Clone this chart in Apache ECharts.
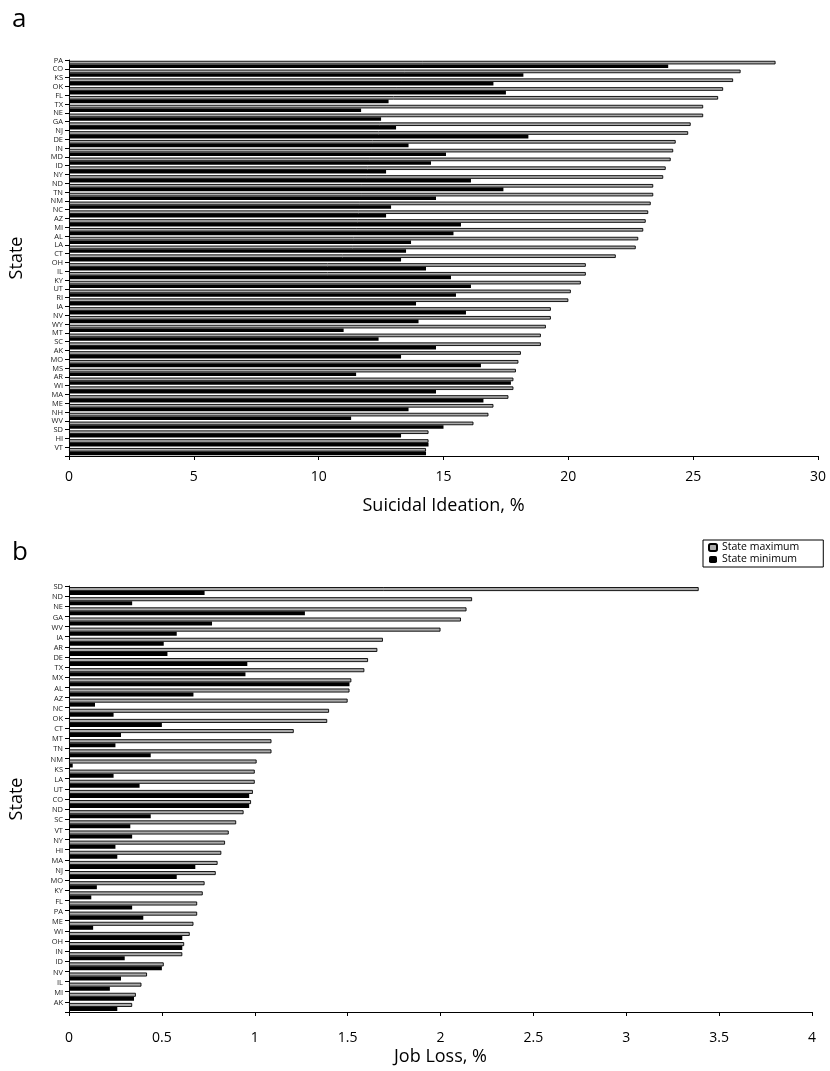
<!DOCTYPE html>
<html>
<head>
<meta charset="utf-8">
<script src="https://cdn.jsdelivr.net/npm/echarts@6/dist/echarts.min.js"></script>
<style>html,body{margin:0;padding:0;background:#fff;}#c{width:830px;height:1071px;}</style>
</head>
<body>
<div id="c"></div>
<script>
// ---- Panel a: Suicidal Ideation, % ----
const topStates = ['PA','CO','KS','OK','FL','TX','NE','GA','NJ','DE','IN','MD','ID','NY','ND','TN','NM','NC','AZ','MI','AL','LA','CT','OH','IL','KY','UT','RI','IA','NV','WY','MT','SC','AK','MO','MS','AR','WI','MA','ME','NH','WV','SD','HI','VT'];
const topMax = [28.3,26.9,26.6,26.2,26.0,25.4,25.4,24.9,24.8,24.3,24.2,24.1,23.9,23.8,23.4,23.4,23.3,23.2,23.1,23.0,22.8,22.7,21.9,20.7,20.7,20.5,20.1,20.0,19.3,19.3,19.1,18.9,18.9,18.1,18.0,17.9,17.8,17.8,17.6,17.0,16.8,16.2,14.4,14.4,14.3];
const topMin = [24.0,18.2,17.0,17.5,12.8,11.7,12.5,13.1,18.4,13.6,15.1,14.5,12.7,16.1,17.4,14.7,12.9,12.7,15.7,15.4,13.7,13.5,13.3,14.3,15.3,16.1,15.5,13.9,15.9,14.0,11.0,12.4,14.7,13.3,16.5,11.5,17.7,14.7,16.6,13.6,11.3,15.0,13.3,14.4,14.3];
const topTicks = [0,5,10,15,20,25,30];

// ---- Panel b: Job Loss, % ----
const botStates = ['SD','ND','NE','GA','WV','IA','AR','DE','TX','MX','AL','AZ','NC','OK','CT','MT','TN','NM','KS','LA','UT','CO','ND','SC','VT','NY','HI','MA','NJ','MO','KY','FL','PA','ME','WI','OH','IN','ID','NV','IL','MI','AK'];
const botMax = [3.39,2.17,2.14,2.11,2.00,1.69,1.66,1.61,1.59,1.52,1.51,1.50,1.40,1.39,1.21,1.09,1.09,1.01,1.00,1.00,0.99,0.98,0.94,0.90,0.86,0.84,0.82,0.80,0.79,0.73,0.72,0.69,0.69,0.67,0.65,0.62,0.61,0.51,0.42,0.39,0.36,0.34];
const botMin = [0.73,0.34,1.27,0.77,0.58,0.51,0.53,0.96,0.95,1.51,0.67,0.14,0.24,0.50,0.28,0.25,0.44,0.02,0.24,0.38,0.97,0.97,0.44,0.33,0.34,0.25,0.26,0.68,0.58,0.15,0.12,0.34,0.40,0.13,0.61,0.61,0.30,0.50,0.28,0.22,0.35,0.26];
const botTicks = [0,0.5,1,1.5,2,2.5,3,3.5,4];

const FONT = '"Open Sans", "Liberation Sans", sans-serif';
const maxStyle = {color:'#ababab', borderColor:'#000', borderWidth:0.9};
const minStyle = {color:'#000'};

function fmt(v){ return String(v); }

function yAx(grid, data, gap){
  return {
    type:'category', gridIndex:grid, data:data, inverse:true,
    axisLine:{show:true, lineStyle:{color:'#000', width:1}},
    axisTick:{show:true, length:4, lineStyle:{color:'#000'}},
    axisLabel:{fontSize:7.5, color:'#222', fontFamily:FONT, margin:6, verticalAlign:'bottom', interval:0},
    name:'State', nameLocation:'middle', nameGap:gap, nameRotate:90,
    nameTextStyle:{fontSize:18, color:'#000', fontFamily:FONT}
  };
}
function xAx(grid, ticks, name, margin, nameGap){
  return {
    type:'value', gridIndex:grid, min:ticks[0], max:ticks[ticks.length-1], interval:ticks[1]-ticks[0],
    axisLine:{show:true, lineStyle:{color:'#000', width:1}},
    axisTick:{show:true, length:4, lineStyle:{color:'#000'}},
    splitLine:{show:false},
    axisLabel:{fontSize:14, color:'#000', fontFamily:FONT, margin:margin, formatter:fmt},
    name:name, nameLocation:'middle', nameGap:nameGap,
    nameTextStyle:{fontSize:18, color:'#000', fontFamily:FONT}
  };
}

const chart = echarts.init(document.getElementById('c'), null, {renderer:'canvas'});
chart.setOption({
  animation:false,
  backgroundColor:'#fff',
  title:[
    {text:'a', left:7, top:2, textStyle:{fontSize:26, fontWeight:'normal', color:'#000', fontFamily:FONT}},
    {text:'b', left:7, top:535, textStyle:{fontSize:26, fontWeight:'normal', color:'#000', fontFamily:FONT}}
  ],
  legend:{
    data:['State maximum','State minimum'], orient:'vertical', left:703, top:540,
    itemWidth:8, itemHeight:7, itemGap:1, padding:[2,24,2,5],
    borderColor:'#000', borderWidth:1,
    textStyle:{fontSize:10.5, color:'#000', fontFamily:FONT}
  },
  grid:[
    {left:67, right:12, top:60, bottom:615},
    {left:64, right:18, top:586, bottom:59}
  ],
  xAxis:[ xAx(0, topTicks, 'Suicidal Ideation, %', 14, 41), xAx(1, botTicks, 'Job Loss, %', 19, 36) ],
  yAxis:[ yAx(0, topStates, 43), yAx(1, botStates, 43) ],
  series:[
    {name:'State maximum', type:'bar', xAxisIndex:0, yAxisIndex:0, data:topMax, barWidth:3.6, barGap:'0%', itemStyle:maxStyle},
    {name:'State minimum', type:'bar', xAxisIndex:0, yAxisIndex:0, data:topMin, barWidth:3.6, barGap:'0%', itemStyle:minStyle},
    {name:'State maximum', type:'bar', xAxisIndex:1, yAxisIndex:1, data:botMax, barWidth:4, barGap:'0%', itemStyle:maxStyle},
    {name:'State minimum', type:'bar', xAxisIndex:1, yAxisIndex:1, data:botMin, barWidth:4, barGap:'0%', itemStyle:minStyle}
  ]
});
</script>
</body>
</html>
